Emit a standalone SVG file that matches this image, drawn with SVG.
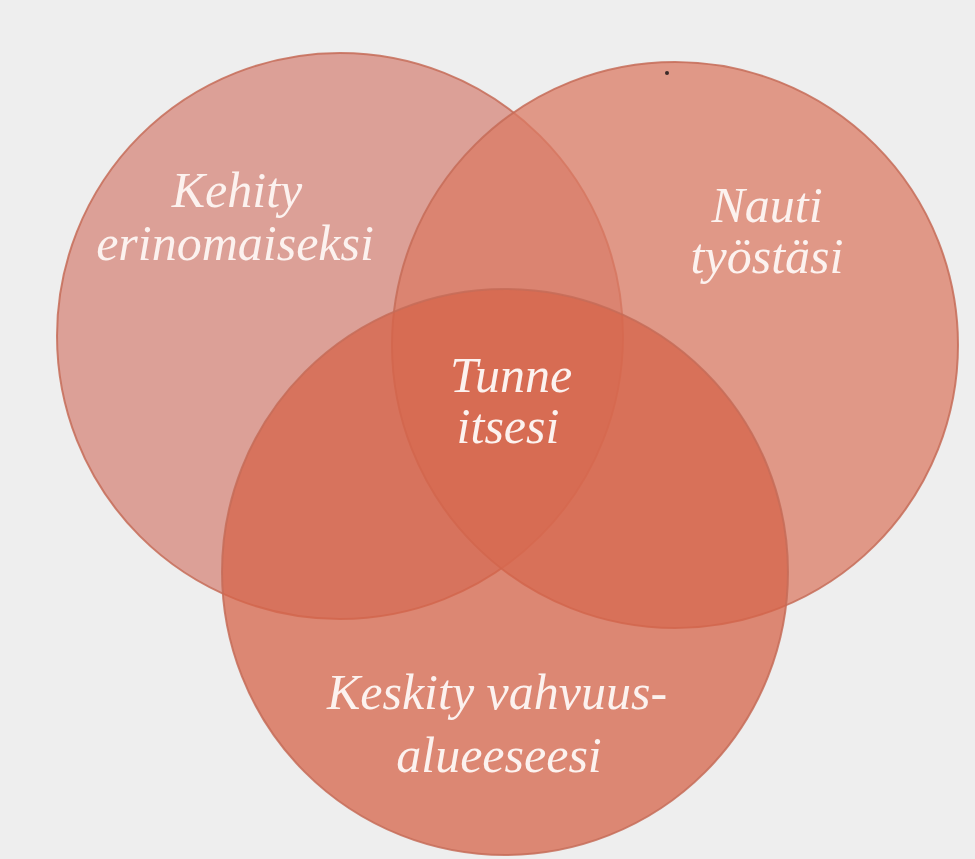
<svg xmlns="http://www.w3.org/2000/svg" width="975" height="859" viewBox="0 0 975 859">
  <style>
    .circle { stroke: #c66c58; stroke-width: 2; stroke-opacity: 0.85; fill-opacity: 0.75; }
    .label { font-family: "Liberation Serif", "Times New Roman", serif; font-style: italic; font-size: 50px; fill: #fcf2ef; text-anchor: middle; }
  </style>
  <rect x="0" y="0" width="975" height="859" fill="#eeeeee"/>
  <g id="connectors"/>
  <g id="node-kehity">
    <circle class="circle" cx="340" cy="336" r="283" fill="#d5857a"/>
    <text class="label" x="237" y="207">Kehity</text>
    <text class="label" x="235" y="260">erinomaiseksi</text>
  </g>
  <g id="node-nauti">
    <circle class="circle" cx="675" cy="345" r="283" fill="#db7b64"/>
    <text class="label" x="767" y="222">Nauti</text>
    <text class="label" x="767" y="273">työstäsi</text>
  </g>
  <g id="node-keskity">
    <circle class="circle" cx="505" cy="572" r="283" fill="#d56449"/>
    <text class="label" x="497" y="709">Keskity vahvuus-</text>
    <text class="label" x="499" y="772">alueeseesi</text>
  </g>
  <g id="node-tunne">
    <text class="label" x="511" y="392">Tunne</text>
    <text class="label" x="508" y="443">itsesi</text>
  </g>
  <circle cx="667" cy="73" r="2" fill="#3a2a28"/>
</svg>
